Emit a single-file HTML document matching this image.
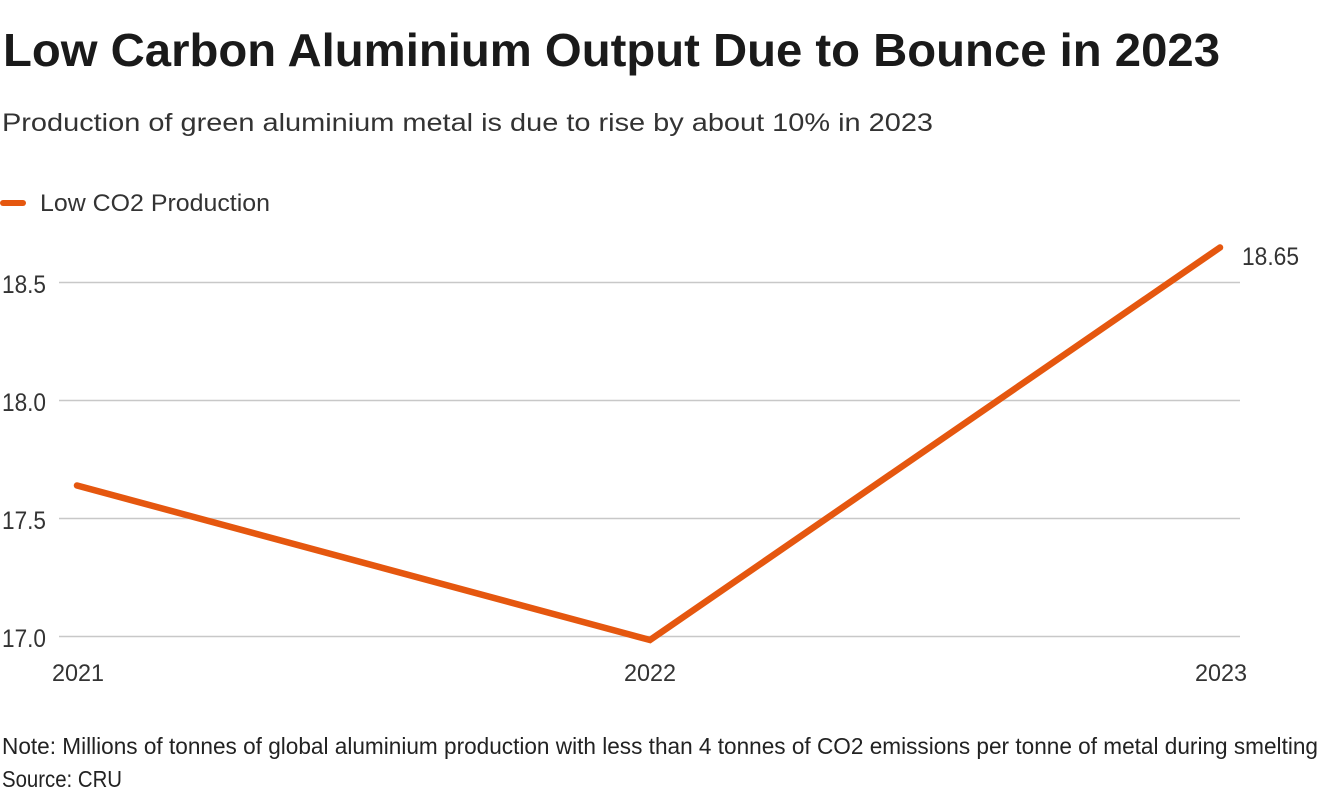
<!DOCTYPE html>
<html>
<head>
<meta charset="utf-8">
<style>
  html, body { margin: 0; padding: 0; background: #ffffff; }
  body { width: 1320px; height: 800px; overflow: hidden; }
  svg { display: block; }
  text { font-family: "Liberation Sans", "DejaVu Sans", sans-serif; }
</style>
</head>
<body>
<svg width="1320" height="800" viewBox="0 0 1320 800" xmlns="http://www.w3.org/2000/svg">
  <!-- Title -->
  <text x="3" y="66" font-size="46" font-weight="bold" fill="#1a1a1a" textLength="1217" lengthAdjust="spacingAndGlyphs">Low Carbon Aluminium Output Due to Bounce in 2023</text>
  <!-- Subtitle -->
  <text x="2" y="131" font-size="25" fill="#333333" textLength="931" lengthAdjust="spacingAndGlyphs">Production of green aluminium metal is due to rise by about 10% in 2023</text>

  <!-- Legend -->
  <line x1="3" y1="203" x2="23" y2="203" stroke="#e5570f" stroke-width="6" stroke-linecap="round"/>
  <text x="40" y="211" font-size="24" fill="#333333" textLength="230" lengthAdjust="spacingAndGlyphs">Low CO2 Production</text>

  <!-- Gridlines -->
  <g stroke="#c8c8c8" stroke-width="1.5">
    <line x1="59" y1="282.5" x2="1240" y2="282.5"/>
    <line x1="59" y1="400.5" x2="1240" y2="400.5"/>
    <line x1="59" y1="518.5" x2="1240" y2="518.5"/>
    <line x1="59" y1="636.5" x2="1240" y2="636.5"/>
  </g>

  <!-- Y tick labels -->
  <g font-size="25" fill="#333333">
    <text x="2" y="293" textLength="44" lengthAdjust="spacingAndGlyphs">18.5</text>
    <text x="2" y="411" textLength="44" lengthAdjust="spacingAndGlyphs">18.0</text>
    <text x="2" y="529" textLength="44" lengthAdjust="spacingAndGlyphs">17.5</text>
    <text x="2" y="647" textLength="44" lengthAdjust="spacingAndGlyphs">17.0</text>
  </g>

  <!-- X tick labels -->
  <g font-size="24" fill="#333333">
    <text x="52" y="681" textLength="52" lengthAdjust="spacingAndGlyphs">2021</text>
    <text x="624" y="681" textLength="52" lengthAdjust="spacingAndGlyphs">2022</text>
    <text x="1195" y="681" textLength="52" lengthAdjust="spacingAndGlyphs">2023</text>
  </g>

  <!-- Series -->
  <polyline points="77,485.5 650,640 1220,247.5" fill="none" stroke="#e5570f" stroke-width="6.5" stroke-linejoin="miter" stroke-linecap="round"/>

  <!-- End label -->
  <text x="1242" y="265" font-size="25" fill="#333333" textLength="57" lengthAdjust="spacingAndGlyphs">18.65</text>

  <!-- Footer -->
  <text x="2" y="754" font-size="23" fill="#222222" textLength="1316" lengthAdjust="spacingAndGlyphs">Note: Millions of tonnes of global aluminium production with less than 4 tonnes of CO2 emissions per tonne of metal during smelting</text>
  <text x="2" y="787" font-size="23" fill="#222222" textLength="120" lengthAdjust="spacingAndGlyphs">Source: CRU</text>
</svg>
</body>
</html>
